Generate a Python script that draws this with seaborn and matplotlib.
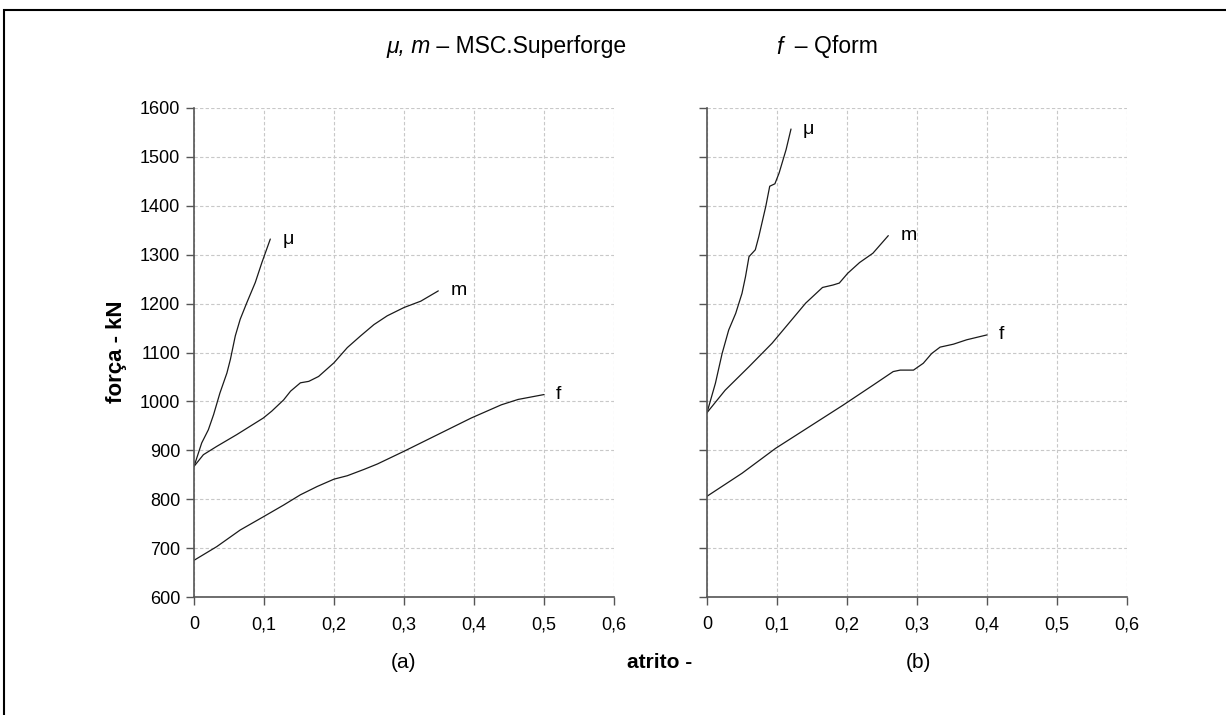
import matplotlib
matplotlib.use("Agg")
import matplotlib.pyplot as plt
import seaborn as sns
import pandas as pd
from matplotlib.patches import Rectangle

sns.set_theme(style="white")
plt.rcParams['font.family'] = ['Liberation Sans', 'DejaVu Sans']
plt.rcParams['text.color'] = 'black'

# ---- data (atrito, força kN) ----
a_mu_x = [0, 0.011, 0.0205, 0.028, 0.037, 0.047, 0.052, 0.059, 0.066, 0.0755, 0.0875, 0.097, 0.109]
a_mu_y = [867, 915, 942, 973, 1017, 1058, 1086, 1134, 1168, 1202, 1243, 1284, 1332]
a_m_x = [0, 0.0134, 0.0325, 0.061, 0.080, 0.099, 0.111, 0.128, 0.138, 0.152, 0.164, 0.178, 0.20,
         0.219, 0.238, 0.257, 0.276, 0.30, 0.324, 0.349]
a_m_y = [867, 891, 908, 932, 949, 966, 980, 1003, 1021, 1038, 1041, 1051, 1079,
         1110, 1134, 1157, 1175, 1192, 1205, 1226]
a_f_x = [0, 0.0325, 0.066, 0.099, 0.128, 0.152, 0.176, 0.20, 0.219, 0.243, 0.262, 0.30, 0.348,
         0.396, 0.439, 0.463, 0.50]
a_f_y = [675, 703, 737, 764, 788, 809, 826, 841, 848, 861, 872, 898, 932, 966, 993, 1004, 1014]

b_mu_x = [0, 0.012, 0.0216, 0.031, 0.041, 0.050, 0.055, 0.060, 0.069, 0.074, 0.084, 0.0896,
          0.097, 0.103, 0.113, 0.120]
b_mu_y = [977, 1037, 1098, 1146, 1180, 1221, 1255, 1296, 1310, 1337, 1399, 1440, 1445, 1467, 1515, 1557]
b_m_x = [0, 0.026, 0.060, 0.093, 0.117, 0.141, 0.165, 0.180, 0.189, 0.201, 0.218, 0.237, 0.259]
b_m_y = [977, 1023, 1071, 1119, 1160, 1201, 1233, 1238, 1242, 1262, 1284, 1303, 1339]
b_f_x = [0, 0.050, 0.098, 0.146, 0.194, 0.237, 0.266, 0.276, 0.295, 0.309, 0.321, 0.333, 0.352,
         0.371, 0.40]
b_f_y = [806, 853, 904, 948, 992, 1033, 1061, 1064, 1064, 1078, 1098, 1111, 1117, 1126, 1136]

x_ticks = [0, 0.1, 0.2, 0.3, 0.4, 0.5, 0.6]
x_ticklabels = ["0", "0,1", "0,2", "0,3", "0,4", "0,5", "0,6"]
y_ticks = [600, 700, 800, 900, 1000, 1100, 1200, 1300, 1400, 1500, 1600]
series_labels = ["μ", "m", "f"]

W, H = 1226, 715
fig = plt.figure(figsize=(W / 100, H / 100), dpi=100)

def px_axes(x0, x1, y0, y1):
    return fig.add_axes([x0 / W, 1 - y1 / H, (x1 - x0) / W, (y1 - y0) / H])

ax_a = px_axes(194, 614, 108, 597)
ax_b = px_axes(707, 1127, 108, 597)

panels = [
    (ax_a, [(a_mu_x, a_mu_y), (a_m_x, a_m_y), (a_f_x, a_f_y)], True),
    (ax_b, [(b_mu_x, b_mu_y), (b_m_x, b_m_y), (b_f_x, b_f_y)], False),
]

for ax, series, show_ylabels in panels:
    for (xs, ys), lab in zip(series, series_labels):
        df = pd.DataFrame({"x": xs, "y": ys})
        sns.lineplot(data=df, x="x", y="y", ax=ax, color="#1a1a1a", lw=0.9,
                     estimator=None, sort=False)
        ax.annotate(lab, (xs[-1], ys[-1]), xytext=(12, 0), textcoords="offset pixels",
                    fontsize=14, ha="left", va="center", color="black")
    ax.set_xlim(0, 0.6)
    ax.set_ylim(600, 1600)
    ax.set_xticks(x_ticks)
    ax.set_xticklabels(x_ticklabels)
    ax.set_yticks(y_ticks)
    if not show_ylabels:
        ax.set_yticklabels([])
    ax.set_xlabel("")
    ax.set_ylabel("")
    ax.grid(True, color="#c8c8c8", linestyle=(0, (3, 2)), lw=0.8)
    for s in ["top", "right"]:
        ax.spines[s].set_visible(False)
    for s in ["left", "bottom"]:
        ax.spines[s].set_color("#555555")
        ax.spines[s].set_linewidth(1.2)
    ax.tick_params(axis="both", which="major", direction="out", length=6, width=1,
                   color="#555555", labelsize=13, labelcolor="black", left=True, bottom=True)
    ax.tick_params(axis="x", pad=8)
    ax.tick_params(axis="y", pad=4)

# axis labels and captions
fig.text(117 / W, 1 - 352 / H, "força - kN", rotation=90, ha="center", va="center",
         fontsize=16, fontweight="bold")
fig.text(660 / W, 1 - 663 / H, "atrito -", ha="center", va="center",
         fontsize=15, fontweight="bold")
fig.text(403 / W, 1 - 663 / H, "(a)", ha="center", va="center", fontsize=15)
fig.text(918 / W, 1 - 663 / H, "(b)", ha="center", va="center", fontsize=15)

# title pieces, placed one after another
fig.canvas.draw()
renderer = fig.canvas.get_renderer()

def seq_text(x_px, pieces, y_px=47, size=16.5):
    x = x_px
    for txt, style in pieces:
        t = fig.text(x / W, 1 - y_px / H, txt, ha="left", va="center", fontsize=size, style=style)
        bb = t.get_window_extent(renderer=renderer)
        x = bb.x1

seq_text(386, [("μ, m", "italic"), (" – MSC.Superforge", "normal")])
seq_text(776, [("f", "italic"), ("  – Qform", "normal")])

# frame border (top and left visible)
fig.patches.append(Rectangle((4 / W, -0.05), 1.2, 1 - 10 / H + 0.05, transform=fig.transFigure,
                             fill=False, edgecolor="black", lw=1.5))

fig.savefig("out.png", dpi=100, facecolor="white")
